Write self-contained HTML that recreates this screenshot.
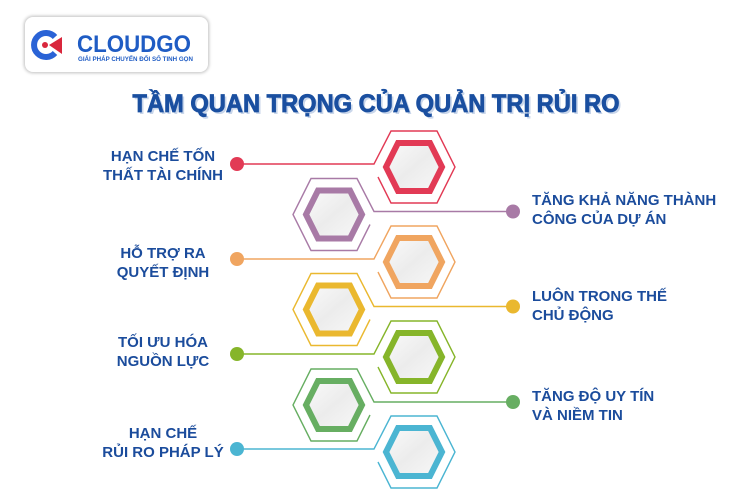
<!DOCTYPE html>
<html><head><meta charset="utf-8"><style>
html,body{margin:0;padding:0;background:#fff;}
body{width:750px;height:500px;position:relative;overflow:hidden;font-family:"Liberation Sans","Noto Sans CJK SC",sans-serif;}
.logo{position:absolute;left:25px;top:17px;width:183px;height:55px;border-radius:8px;background:#fff;box-shadow:0 0 3px 1px rgba(0,0,0,0.25);}
.t{position:absolute;color:#1b4c9c;font-weight:bold;font-size:15px;line-height:19px;white-space:nowrap;}
.l{width:160px;left:83px;text-align:center;}
.r{left:532px;}
</style></head><body>
<div class="logo"></div>
<svg style="position:absolute;left:0;top:0" width="750" height="500">
<defs>
<linearGradient id="g" x1="0" y1="0" x2="1" y2="1"><stop offset="0" stop-color="#fafafa"/><stop offset="0.5" stop-color="#ececec"/><stop offset="1" stop-color="#f8f8f8"/></linearGradient>
</defs>
<path d="M55,37 A12,12 0 1 0 55,53" fill="none" stroke="#2a63d6" stroke-width="6"/>
<circle cx="45" cy="45" r="3" fill="#d9263c"/>
<path d="M49,45 L62,37 L62,54 Z" fill="#d9263c"/>
<text x="77" y="52" textLength="114" lengthAdjust="spacingAndGlyphs" font-family="Liberation Sans, sans-serif" font-weight="bold" font-size="24" fill="#1f5cc4">CLOUDGO</text>
<text x="78" y="61" textLength="115" lengthAdjust="spacingAndGlyphs" font-family="Liberation Sans, sans-serif" font-weight="bold" font-size="6.3" fill="#1f5cc4">GIẢI PHÁP CHUYỂN ĐỔI SỐ TINH GỌN</text>
<text x="378" y="114" text-anchor="middle" textLength="487" lengthAdjust="spacingAndGlyphs" font-family="Liberation Sans, sans-serif" font-weight="900" font-size="25" fill="#c9d6ea">TẦM QUAN TRỌNG CỦA  QUẢN TRỊ RỦI RO</text>
<text x="376" y="112" text-anchor="middle" textLength="487" lengthAdjust="spacingAndGlyphs" font-family="Liberation Sans, sans-serif" font-weight="900" font-size="25" fill="#1a4fa0" stroke="#1a4fa0" stroke-width="0.8">TẦM QUAN TRỌNG CỦA  QUẢN TRỊ RỦI RO</text>
</svg>
<script>
(function(){
var svg=document.querySelector('svg');var ns='http://www.w3.org/2000/svg';
var items=[[414,167,'#e23a55','R'],[334,214.5,'#a87aa6','L'],[414,262,'#f0a560','R'],[334,309.5,'#eab82f','L'],[414,357,'#86b52a','R'],[334,405,'#67ae62','L'],[414,452,'#4bb5d2','R']];
function el(n,a){var e=document.createElementNS(ns,n);for(var k in a)e.setAttribute(k,a[k]);svg.appendChild(e);return e;}
items.forEach(function(it){
var cx=it[0],cy=it[1],c=it[2],s=it[3];
var w=41,t=23,h=36,d;
if(s==='R'){
d='M237,'+(cy-3)+' H'+(cx-40)+' L'+(cx-t)+','+(cy-h)+' L'+(cx+t)+','+(cy-h)+' L'+(cx+w)+','+cy+' L'+(cx+t)+','+(cy+h)+' L'+(cx-t)+','+(cy+h)+' L'+(cx-36)+','+(cy+10);
el('circle',{cx:237,cy:cy-3,r:7,fill:c});
}else{
d='M513,'+(cy-3)+' H'+(cx+40)+' L'+(cx+t)+','+(cy-h)+' L'+(cx-t)+','+(cy-h)+' L'+(cx-w)+','+cy+' L'+(cx-t)+','+(cy+h)+' L'+(cx+t)+','+(cy+h)+' L'+(cx+36)+','+(cy+10);
el('circle',{cx:513,cy:cy-3,r:7,fill:c});
}
el('path',{d:d,fill:'none',stroke:c,'stroke-width':1.4});
var iw=28,it2=16,ih=24;
var p=[(cx-iw)+','+cy,(cx-it2)+','+(cy-ih),(cx+it2)+','+(cy-ih),(cx+iw)+','+cy,(cx+it2)+','+(cy+ih),(cx-it2)+','+(cy+ih)].join(' ');
el('polygon',{points:p,fill:'url(#g)',stroke:c,'stroke-width':6,'stroke-linejoin':'miter'});
});
})();
</script>
<div class="t l" style="top:147px">HẠN CHẾ TỐN<br>THẤT TÀI CHÍNH</div>
<div class="t r" style="top:191px">TĂNG KHẢ NĂNG THÀNH<br>CÔNG CỦA DỰ ÁN</div>
<div class="t l" style="top:244px">HỖ TRỢ RA<br>QUYẾT ĐỊNH</div>
<div class="t r" style="top:287px">LUÔN TRONG THẾ<br>CHỦ ĐỘNG</div>
<div class="t l" style="top:333px">TỐI ƯU HÓA<br>NGUỒN LỰC</div>
<div class="t r" style="top:387px">TĂNG ĐỘ UY TÍN<br>VÀ NIỀM TIN</div>
<div class="t l" style="top:424px">HẠN CHẾ<br>RỦI RO PHÁP LÝ</div>
</body></html>
